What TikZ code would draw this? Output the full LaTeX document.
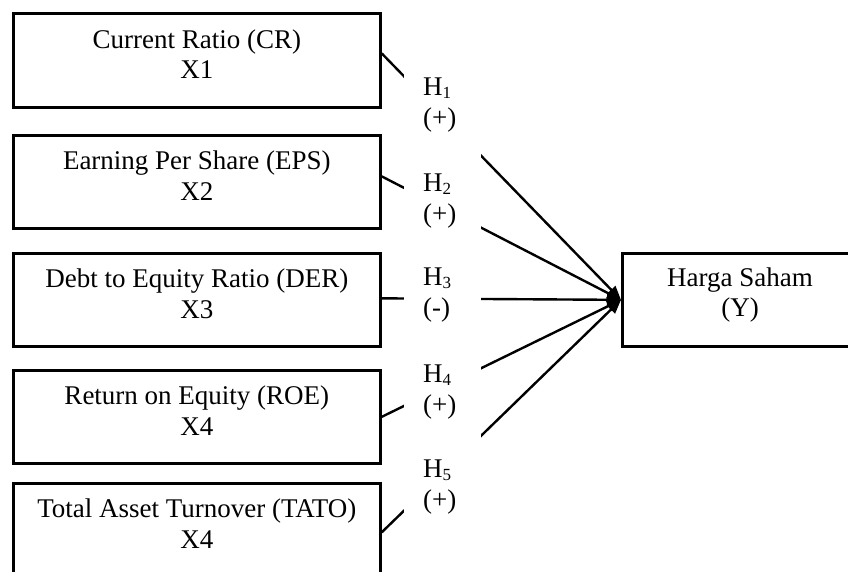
\documentclass[tikz,border=0pt]{standalone}
\usepackage{fontspec}
\setmainfont{Liberation Serif}
\usetikzlibrary{arrows.meta}
\newcommand\hsubs[1]{\raisebox{-3pt}{\fontsize{17}{17}\selectfont #1}}
\begin{document}
\begin{tikzpicture}[x=1pt,y=-1pt,
  box/.style={draw, line width=2.7pt, minimum width=367pt, minimum height=93pt, inner sep=0pt, anchor=north west},
  txt/.style={align=center, inner sep=0pt, font=\fontsize{27}{30.5}\selectfont},
  hyp/.style={align=left, inner sep=0pt, anchor=north west, font=\fontsize{27}{30.5}\selectfont},
  link/.style={line width=2.4pt, -{Triangle[length=14pt,width=11pt]}}]
\useasboundingbox (0,0) rectangle (848,572);
\clip (0,0) rectangle (848,572);
% boxes
\node[box, minimum height=94pt] (b1) at (12,12) {};
\node[box] (b2) at (12,134) {};
\node[box] (b3) at (12,252) {};
\node[box] (b4) at (12,369) {};
\node[box] (b5) at (12,482) {};
\node[box, minimum width=238pt] (h) at (621,252) {};
% texts
\node[txt] (t1) at ([yshift=6pt]b1.center) {Current Ratio (CR)\\X1};
\node[txt] (t2) at ([yshift=6pt]b2.center) {Earning Per Share (EPS)\\X2};
\node[txt] (t3) at ([yshift=6pt]b3.center) {Debt to Equity Ratio (DER)\\X3};
\node[txt] (t4) at ([yshift=6pt]b4.center) {Return on Equity (ROE)\\X4};
\node[txt] (t5) at ([yshift=6pt]b5.center) {Total Asset Turnover (TATO)\\X4};
\node[txt] (ty) at ([yshift=5pt]h.center -| 740,0) {Harga Saham\\(Y)};
% connectors
\draw[link] ([yshift=7pt]b1.east) -- (h.west);
\draw[link] ([yshift=5.5pt]b2.east) -- (h.west);
\draw[link] ([yshift=1.5pt]b3.east) -- (h.west);
\draw[link] (b4.east) -- (h.west);
\draw[link] ([yshift=-2.5pt]b5.east) -- (h.west);
% gap behind the hypothesis labels
\node[fill=white, inner sep=0pt, minimum width=77pt, minimum height=480pt] (gap) at (442.5,300) {};
% hypothesis labels
\node[hyp] (h1) at (423,78) {H\hsubs{1}\\(+)};
\node[hyp] (h2) at (423,174) {H\hsubs{2}\\(+)};
\node[hyp] (h3) at (423,268) {H\hsubs{3}\\(-)};
\node[hyp] (h4) at (423,365) {H\hsubs{4}\\(+)};
\node[hyp] (h5) at (423,460) {H\hsubs{5}\\(+)};
\end{tikzpicture}
\end{document}
